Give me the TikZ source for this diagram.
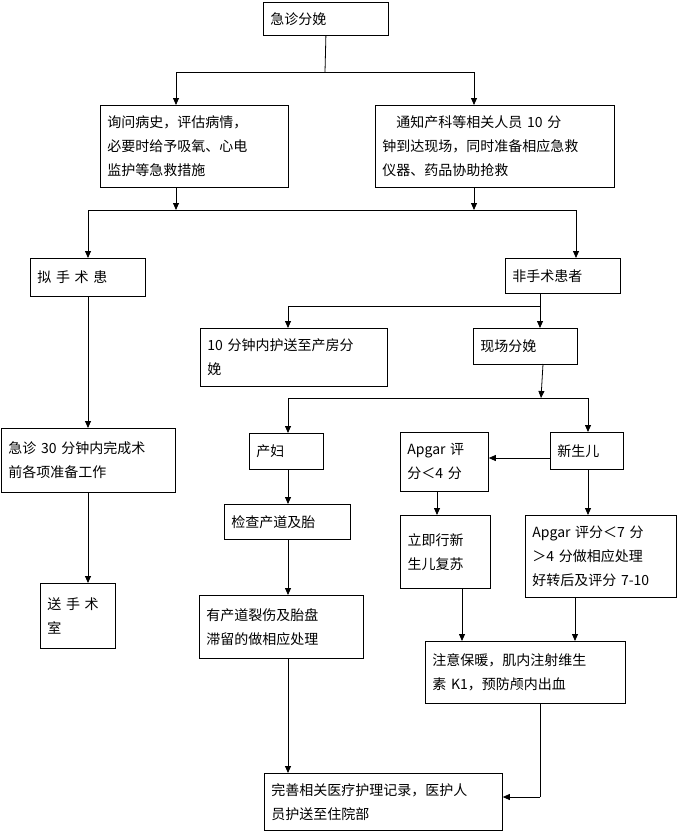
\documentclass[tikz,border=0pt]{standalone}
\usepackage{fontspec}
\setmainfont{Noto Sans CJK SC}
\usetikzlibrary{arrows.meta}
\begin{document}
\begin{tikzpicture}[x=1pt,y=-1pt,
  box/.style={draw,line width=0.8pt,anchor=north west,align=left,inner sep=0pt,font=\fontsize{14}{24}\selectfont},
  arr/.style={-{Triangle[length=7pt,width=6pt]},line width=0.8pt},
  ln/.style={line width=0.8pt}]
\useasboundingbox (0,0) rectangle (677,833);
\newcommand\bx[6]{\node[box,minimum width=#4-#2,minimum height=#5-#3,text width=#4-#2-14] (#1) at (#2,#3) {#6};}
\bx{a}{263}{2}{388}{35}{\centering 急诊分娩}
\bx{b}{100}{105}{288}{187}{询问病史，评估病情，\\必要时给予吸氧、心电\\监护等急救措施}
\bx{c}{375}{105}{614}{187}{\quad 通知产科等相关人员 10 分\\钟到达现场，同时准备相应急救\\仪器、药品协助抢救}
\bx{d}{30}{258}{145}{296}{拟 手 术 患}
\bx{e}{505}{258}{620}{293}{\centering 非手术患者}
\bx{f}{200}{328}{387}{386}{10 分钟内护送至产房分\\娩}
\bx{g}{473}{328}{577}{364}{现场分娩}
\bx{h}{1}{428}{175}{492}{急诊 30 分钟内完成术\\前各项准备工作}
\bx{i}{249}{433}{323}{469}{产妇}
\bx{j}{400}{432}{488}{491}{Apgar 评\\分＜4 分}
\bx{k}{550}{432}{623}{469}{新生儿}
\bx{l}{224}{504}{350}{539}{检查产道及胎}
\node[box,line width=1.4pt,minimum width=90,minimum height=73,text width=76] (m) at (400,515) {立即行新\\生儿复苏\\[12pt]};
\bx{n}{525}{515}{676}{597}{Apgar 评分＜7 分\\＞4 分做相应处理\\好转后及评分 7-10}
\bx{o}{40}{583}{115}{648}{送 手 术\\室}
\bx{p}{199}{595}{363}{658}{有产道裂伤及胎盘\\滞留的做相应处理}
\bx{q}{425}{641}{625}{703}{注意保暖，肌内注射维生\\素 K1，预防颅内出血}
\bx{r}{264}{773}{502}{830}{完善相关医疗护理记录，医护人\\员护送至住院部}
% connectors
\coordinate (a1) at (325,72);
\draw[ln] (a.south) -- (a1);
\draw[ln] (176,72) -- (474,72);
\draw[arr] (176,72) -- (176,105);
\draw[arr] (474,72) -- (474,105);
\draw[arr] (176,187) -- (176,210);
\draw[arr] (474,187) -- (474,210);
\draw[ln] (88,210) -- (576,210);
\draw[arr] (88,210) -- (d.north -| 88,0);
\draw[arr] (576,210) -- (576,258);
\draw[arr] (d.south -| 88,0) -- (h.north -| 88,0);
\draw[arr] (h.south -| 88,0) -- (o.north -| 88,0);
\draw[ln] (540,293) -- (540,306);
\draw[ln] (288,306) -- (540,306);
\draw[arr] (288,306) -- (288,328);
\draw[arr] (540,306) -- (540,328);
\draw[arr] (543,364) -- (541,398);
\draw[ln] (288,398) -- (588,398);
\draw[arr] (288,398) -- (288,433);
\draw[arr] (588,398) -- (588,432);
\draw[arr] (k.west |- 0,458) -- (j.east |- 0,458);
\draw[arr] (288,469) -- (288,504);
\draw[arr] (288,539) -- (288,595);
\draw[arr] (288,658) -- (288,773);
\draw[arr] (437,491) -- (437,515);
\draw[arr] (588,469) -- (588,515);
\draw[arr] (462,588) -- (462,641);
\draw[arr] (575,597) -- (575,641);
\draw[ln] (540,703) -- (540,797);
\draw[arr] (540,797) -- (r.east |- 0,797);
\end{tikzpicture}
\end{document}
